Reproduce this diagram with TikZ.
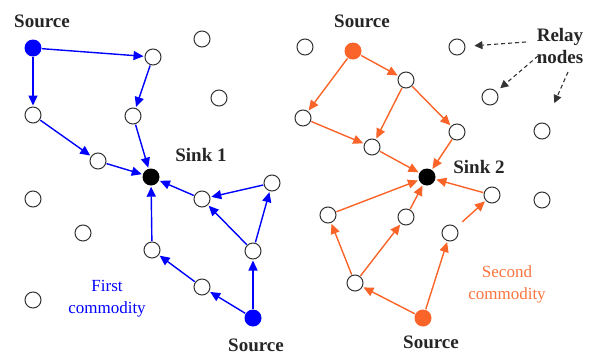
\documentclass[tikz,border=0pt]{standalone}
\usepackage{fontspec}
\setmainfont{Liberation Serif}
\usetikzlibrary{arrows.meta}
\definecolor{orng}{RGB}{250,100,40}
\tikzset{
  relay/.style={circle,draw=black!80,line width=1pt,fill=white,minimum size=16pt,inner sep=0pt},
  srcb/.style={circle,fill=blue,minimum size=17pt,inner sep=0pt},
  srco/.style={circle,fill=orng,minimum size=17pt,inner sep=0pt},
  sinkn/.style={circle,fill=black,minimum size=17pt,inner sep=0pt},
  lbl/.style={font=\fontsize{19}{21}\selectfont\bfseries,text=black!85},
  ctext/.style={font=\fontsize{17}{22}\selectfont,align=center},
  flowb/.style={draw=blue,line width=1.4pt,-{Triangle[length=10pt,width=9pt]},shorten >=1pt,shorten <=0.5pt},
  flowo/.style={draw=orng,line width=1.4pt,-{Triangle[length=10pt,width=9pt]},shorten >=1pt,shorten <=0.5pt},
  pointer/.style={draw=black!80,line width=1.1pt,dashed,dash pattern=on 4pt off 3pt,-{Triangle[length=8pt,width=8pt]}}
}
\begin{document}
\begin{tikzpicture}[x=1pt,y=-1pt]
\useasboundingbox (0,0) rectangle (590,354);
% left network
\node[srcb] (s1) at (33,48) {};
\node[relay] (a) at (153,57) {};
\node[relay] (b) at (202,39) {};
\node[relay] (c) at (33,115) {};
\node[relay] (d) at (133,116) {};
\node[relay] (e) at (219,98) {};
\node[relay] (f) at (98,161) {};
\node[sinkn] (k1) at (151,177) {};
\node[relay] (g) at (202,199) {};
\node[relay] (h) at (272,183) {};
\node[relay] (i) at (33,199) {};
\node[relay] (j) at (83,233) {};
\node[relay] (kk) at (152,250) {};
\node[relay] (l) at (253,251) {};
\node[relay] (m) at (202,287) {};
\node[relay] (n) at (33,300) {};
\node[srcb] (s2) at (253,318) {};
% right network
\node[srco] (t1) at (353,51) {};
\node[relay] (p1) at (305,47) {};
\node[relay] (p2) at (457,47) {};
\node[relay] (p3) at (406,80) {};
\node[relay] (p4) at (303,118) {};
\node[relay] (p5) at (490,97) {};
\node[relay] (p6) at (457,132) {};
\node[relay] (p7) at (372,147) {};
\node[relay] (p8) at (542,131) {};
\node[sinkn] (k2) at (427,177) {};
\node[relay] (p9) at (492,195) {};
\node[relay] (p10) at (542,200) {};
\node[relay] (p11) at (328,215) {};
\node[relay] (p12) at (406,217) {};
\node[relay] (p13) at (450,233) {};
\node[relay] (p14) at (355,283) {};
\node[srco] (t2) at (423,318) {};
% labels
\node[lbl] (ls1) at (42,21) {Source};
\node[lbl] (lk1) at (201,155) {Sink 1};
\node[lbl] (ls2) at (256,345) {Source};
\node[lbl] (lt1) at (362,21) {Source};
\node[lbl] (lk2) at (479,167) {Sink 2};
\node[lbl] (lt2) at (431,342) {Source};
\node[lbl,align=center,font=\fontsize{19}{22}\selectfont\bfseries] (rl) at (560,46) {Relay\\nodes};
\node[ctext,text=blue] (fc) at (107,299) {First\\commodity};
\node[ctext,text=orng!90] (sc) at (507,284) {Second\\commodity};
% left flows
\draw[flowb] (s1) -- (a);
\draw[flowb] (s1) -- (c);
\draw[flowb] (a) -- (d);
\draw[flowb] (c) -- (f);
\draw[flowb] (f) -- (k1);
\draw[flowb] (d) -- (k1);
\draw[flowb] (g) -- (k1);
\draw[flowb] (h) -- (g);
\draw[flowb] (l) -- (g);
\draw[flowb] (l) -- (h);
\draw[flowb] (kk) -- (k1);
\draw[flowb] (m) -- (kk);
\draw[flowb] (s2) -- (m);
\draw[flowb] (s2) -- (l);
% right flows
\draw[flowo] (t1) -- (p3);
\draw[flowo] (t1) -- (p4);
\draw[flowo] (p3) -- (p7);
\draw[flowo] (p3) -- (p6);
\draw[flowo] (p4) -- (p7);
\draw[flowo] (p7) -- (k2);
\draw[flowo] (p6) -- (k2);
\draw[flowo] (p9) -- (k2);
\draw[flowo] (p11) -- (k2);
\draw[flowo] (p12) -- (k2);
\draw[flowo,shorten <=8pt] (p13) -- (p9);
\draw[flowo] (p14) -- (p11);
\draw[flowo] (p14) -- (p12);
\draw[flowo] (t2) -- (p14);
\draw[flowo] (t2) -- (p13);
% relay pointers
\coordinate (q1) at (526,42);
\coordinate (q2) at (538,56);
\coordinate (q3) at (568,72);
\draw[pointer,shorten >=9pt] (q1) -- (p2);
\draw[pointer,shorten >=5pt] (q2) -- (p5);
\draw[pointer,shorten >=22pt] (q3) -- (p8);
\end{tikzpicture}
\end{document}
